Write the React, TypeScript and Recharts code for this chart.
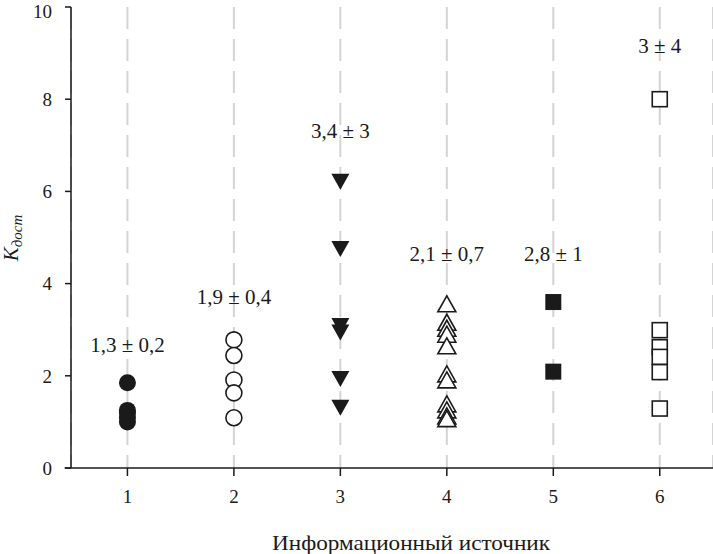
import React from "react";
import {
  ScatterChart,
  Scatter,
  XAxis,
  YAxis,
  CartesianGrid,
  Label,
  ReferenceLine,
} from "recharts";

const sources = [1, 2, 3, 4, 5, 6];
const yTicks = [0, 2, 4, 6, 8, 10];

const source1 = [1.85, 1.25, 1.2, 1.1, 1.0];
const source2 = [2.78, 2.44, 1.91, 1.63, 1.09];
const source3 = [6.23, 4.77, 3.1, 2.96, 1.95, 1.33];
const source4 = [3.54, 3.14, 3.01, 2.88, 2.63, 2.02, 1.89, 1.37, 1.24, 1.11, 1.05];
const source5 = [3.6, 2.09];
const source6 = [8.0, 2.99, 2.62, 2.41, 2.08, 1.29];

const annotationTexts = ["1,3 ± 0,2", "1,9 ± 0,4", "3,4 ± 3", "2,1 ± 0,7", "2,8 ± 1", "3 ± 4"];
const annotationY = [2.67, 3.7, 7.3, 4.64, 4.64, 9.15];

const toPoints = (x: number, ys: number[]) => ys.map((y) => ({ x, y }));

const FONT = "Liberation Serif";
const INK = "#1a1a1a";

const FilledCircle = (p: any) => <circle cx={p.cx} cy={p.cy} r={8.5} fill={INK} />;
const OpenCircle = (p: any) => (
  <circle cx={p.cx} cy={p.cy} r={8} fill="#fff" stroke={INK} strokeWidth={1.6} />
);
const DownTri = (p: any) => (
  <polygon
    points={`${p.cx - 9},${p.cy - 7} ${p.cx + 9},${p.cy - 7} ${p.cx},${p.cy + 9}`}
    fill={INK}
  />
);
const UpTri = (p: any) => (
  <polygon
    points={`${p.cx - 9},${p.cy + 7} ${p.cx + 9},${p.cy + 7} ${p.cx},${p.cy - 9}`}
    fill="#fff"
    stroke={INK}
    strokeWidth={1.6}
  />
);
const FilledSquare = (p: any) => (
  <rect x={p.cx - 8} y={p.cy - 8} width={16} height={16} fill={INK} />
);
const OpenSquare = (p: any) => (
  <rect x={p.cx - 7.5} y={p.cy - 7.5} width={15} height={15} fill="#fff" stroke={INK} strokeWidth={1.6} />
);

const AnnotationShape = (p: any) => (
  <text
    x={p.cx}
    y={p.cy}
    textAnchor="middle"
    dominantBaseline="central"
    style={{ fontFamily: FONT, fontSize: 21 }}
    fill={INK}
  >
    {p.payload.label}
  </text>
);

const annotationData = sources.map((x, i) => ({ x, y: annotationY[i], label: annotationTexts[i] }));

const YLabel = () => {
  const cx = 18;
  const cy = 238;
  return (
    <text
      x={cx}
      y={cy}
      transform={`rotate(-90, ${cx}, ${cy})`}
      textAnchor="middle"
      style={{ fontFamily: FONT, fontStyle: "italic", fontSize: 21 }}
      fill={INK}
    >
      K
      <tspan style={{ fontSize: 15 }} dy={4}>дост</tspan>
    </text>
  );
};

const XLabel = () => (
  <text
    x={411}
    y={550}
    textAnchor="middle"
    textLength={278}
    lengthAdjust="spacingAndGlyphs"
    style={{ fontFamily: FONT, fontSize: 21 }}
    fill={INK}
  >
    Информационный источник
  </text>
);

const tickStyle = { fontFamily: FONT, fontSize: 19, fill: INK };

export default function App() {
  return (
    <div style={{ position: "absolute", left: 0, top: 0, background: "#fff", fontFamily: FONT }}>
      <ScatterChart width={713} height={554} margin={{ top: 7, right: 0, bottom: 0, left: 0 }}>
        <CartesianGrid
          horizontal={false}
          vertical={true}
          stroke="#d4d4d4"
          strokeWidth={2}
          strokeDasharray="22 10"
        />
        <XAxis
          type="number"
          dataKey="x"
          domain={[0.47, 6.5]}
          ticks={sources}
          allowDataOverflow
          height={86}
          tickSize={8}
          tickMargin={14}
          axisLine={{ stroke: INK, strokeWidth: 1.5 }}
          tickLine={{ stroke: INK, strokeWidth: 1.5 }}
          tick={tickStyle}
        >
          <Label content={<XLabel />} />
        </XAxis>
        <YAxis
          type="number"
          dataKey="y"
          domain={[0, 10]}
          ticks={yTicks}
          allowDataOverflow
          width={71}
          tickSize={6}
          tickMargin={13}
          axisLine={{ stroke: INK, strokeWidth: 1.5 }}
          tickLine={{ stroke: INK, strokeWidth: 1.5 }}
          tick={tickStyle}
        >
          <Label content={<YLabel />} />
        </YAxis>
        <ReferenceLine
          segment={[{ x: 0.41, y: 0 }, { x: 0.47, y: 0 }]}
          stroke={INK}
          strokeWidth={1.5}
          ifOverflow="visible"
        />
        <Scatter data={toPoints(1, source1)} shape={FilledCircle} isAnimationActive={false} />
        <Scatter data={toPoints(2, source2)} shape={OpenCircle} isAnimationActive={false} />
        <Scatter data={toPoints(3, source3)} shape={DownTri} isAnimationActive={false} />
        <Scatter data={toPoints(4, source4)} shape={UpTri} isAnimationActive={false} />
        <Scatter data={toPoints(5, source5)} shape={FilledSquare} isAnimationActive={false} />
        <Scatter data={toPoints(6, source6)} shape={OpenSquare} isAnimationActive={false} />
        <Scatter data={annotationData} shape={AnnotationShape} isAnimationActive={false} />
      </ScatterChart>
    </div>
  );
}
